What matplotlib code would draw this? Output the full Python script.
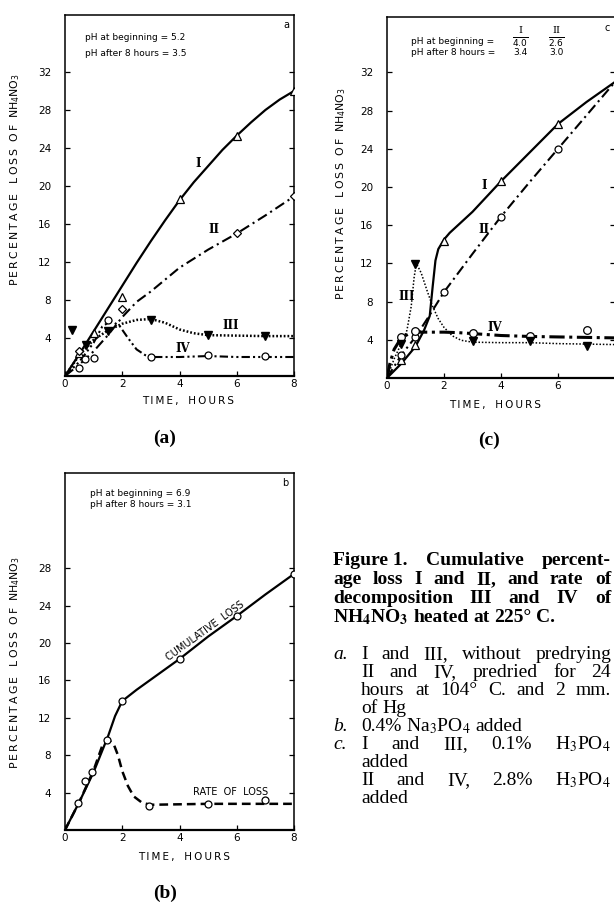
import matplotlib
matplotlib.use("Agg")
import matplotlib.pyplot as plt

W, H = 614, 905

# ---------------- tick values / labels ----------------
x_ticks = [0, 2, 4, 6, 8]
x_ticklabels_ab = ["0", "2", "4", "6", "8"]
x_ticklabels_c = ["0", "2", "4", "6", ""]          # 8 is cut off in the scan
y_ticks_ac = [4, 8, 12, 16, 20, 24, 28, 32]
y_ticks_b = [4, 8, 12, 16, 20, 24, 28]

# ---------------- panel (a) ----------------
a_I_x = [0.5, 1.0, 2.0, 4.0, 6.0, 8.0]
a_I_y = [2.4, 4.5, 8.3, 18.6, 25.3, 30.0]
a_I_cx = [0, 0.5, 1, 1.5, 2, 2.5, 3, 3.5, 4, 4.5, 5, 5.5, 6, 6.5, 7, 7.5, 8]
a_I_cy = [0, 2.3, 4.7, 7.1, 9.5, 11.9, 14.2, 16.4, 18.5, 20.4, 22.1, 23.8, 25.3, 26.7, 28.0, 29.1, 30.0]

a_II_x = [0.5, 2.0, 6.0, 8.0]
a_II_y = [2.6, 7.0, 15.0, 18.9]
a_II_cx = [0, 0.5, 1, 1.5, 2, 2.5, 3, 4, 5, 6, 7, 8]
a_II_cy = [0, 1.2, 2.6, 4.3, 6.2, 7.8, 8.9, 11.4, 13.3, 15.0, 16.9, 18.9]

a_III_x = [0.25, 0.75, 1.5, 3.0, 5.0, 7.0]
a_III_y = [4.8, 3.3, 4.7, 5.9, 4.3, 4.2]
a_III_cx = [0, 0.5, 1, 1.5, 2, 2.5, 3, 3.5, 4, 4.5, 5, 6, 7, 8]
a_III_cy = [0, 2.2, 3.8, 4.8, 5.5, 5.9, 6.0, 5.6, 4.9, 4.5, 4.3, 4.25, 4.2, 4.2]

a_IV_x = [0.5, 0.7, 1.0, 1.5, 3.0, 5.0, 7.0]
a_IV_y = [0.8, 1.8, 1.9, 5.9, 2.0, 2.2, 2.1]
a_IV_cx = [0, 0.5, 1, 1.3, 1.6, 1.9, 2.2, 2.5, 2.8, 3, 4, 5, 6, 7, 8]
a_IV_cy = [0, 1.5, 3.5, 5.2, 5.8, 5.3, 4.0, 2.8, 2.2, 2.0, 2.0, 2.1, 2.0, 2.0, 2.0]

# ---------------- panel (c) ----------------
c_I_x = [0.5, 1.0, 2.0, 4.0, 6.0]
c_I_y = [1.9, 3.45, 14.3, 20.6, 26.6]
c_I_cx = [0, 0.5, 1, 1.3, 1.5, 1.6, 1.7, 1.8, 2.0, 2.2, 3, 4, 5, 6, 7, 8]
c_I_cy = [0, 1.5, 3.3, 5.0, 6.5, 9.5, 12.3, 13.5, 14.5, 15.2, 17.4, 20.6, 23.6, 26.6, 28.9, 31.0]

c_II_x = [0.5, 1.0, 2.0, 4.0, 6.0]
c_II_y = [2.4, 4.25, 9.0, 16.9, 24.0]
c_II_cx = [0, 0.5, 1, 1.5, 2, 3, 4, 5, 6, 7, 8]
c_II_cy = [0, 2.4, 4.3, 6.6, 9.0, 13.0, 16.9, 20.5, 24.0, 27.5, 31.0]

c_III_x = [0.5, 1.0, 3.0, 5.0, 7.0]
c_III_y = [3.6, 11.9, 3.9, 3.9, 3.3]
c_III_cx = [0, 0.25, 0.5, 0.7, 0.85, 0.95, 1.03, 1.2, 1.4, 1.6, 1.8, 2.0, 2.3, 2.6, 3, 4, 5, 6, 7, 8]
c_III_cy = [0, 2.0, 3.6, 5.0, 7.5, 10.5, 12.0, 11.0, 9.2, 7.5, 6.2, 5.3, 4.4, 3.95, 3.75, 3.7, 3.7, 3.6, 3.55, 3.5]

c_IV_x = [0.5, 1.0, 3.0, 5.0, 7.0]
c_IV_y = [4.25, 4.9, 4.75, 4.4, 5.0]
c_IV_cx = [0, 0.1, 0.25, 0.5, 0.75, 1, 1.5, 2, 2.5, 3, 4, 5, 6, 7, 8]
c_IV_cy = [0, 1.5, 3.0, 4.2, 4.6, 4.8, 4.8, 4.8, 4.75, 4.65, 4.45, 4.35, 4.3, 4.25, 4.2]

# ---------------- panel (b) ----------------
b_cum_x = [0.45, 0.7, 0.95, 1.45, 2.0, 4.0, 6.0, 8.0]
b_cum_y = [2.9, 5.2, 6.2, 9.6, 13.8, 18.3, 22.9, 27.4]
b_cum_cx = [0, 0.5, 1, 1.5, 1.75, 2, 2.5, 3, 4, 5, 6, 7, 8]
b_cum_cy = [0, 3.0, 6.2, 10.0, 12.2, 13.8, 15.0, 16.1, 18.3, 20.7, 22.9, 25.2, 27.4]

b_rate_x = [2.95, 5.0, 6.97]
b_rate_y = [2.6, 2.8, 3.2]
b_rate_cx = [0, 0.5, 1, 1.3, 1.5, 1.7, 1.85, 2, 2.2, 2.4, 2.7, 3, 4, 5, 6, 7, 8]
b_rate_cy = [0, 3.0, 6.4, 9.0, 9.7, 9.2, 8.0, 6.3, 4.7, 3.6, 2.9, 2.7, 2.75, 2.8, 2.8, 2.8, 2.8]

# ---------------------------------------------------------------
fig = plt.figure(figsize=(W / 100, H / 100), dpi=100)
plt.rcParams["font.family"] = ["DejaVu Sans"]

TS = "\u2009"
YLABEL = TS.join("PERCENTAGE") + "   " + TS.join("LOSS") + "  " + TS.join("OF") + "  NH$_4$NO$_3$"
XLABEL = TS.join("TIME,") + "   " + TS.join("HOURS")


def rect(l, t, r, b):
    return [l / W, 1 - b / H, (r - l) / W, (b - t) / H]


def make_axes(r, ytop, yticks, xtl):
    ax = fig.add_axes(r)
    ax.set_xlim(0, 8)
    ax.set_ylim(0, ytop)
    ax.set_xticks(x_ticks)
    ax.set_xticklabels(xtl)
    ax.set_yticks(yticks)
    ax.set_yticklabels([str(v) for v in yticks])
    ax.tick_params(axis="both", direction="in", length=3.5, width=0.9,
                   labelsize=7.5)
    ax.tick_params(axis="y", right=True, pad=10)
    ax.tick_params(axis="x", pad=2.5)
    for s in ax.spines.values():
        s.set_linewidth(1.1)
    ax.spines["bottom"].set_linewidth(1.6)
    ax.set_ylabel(YLABEL, fontsize=7.8)
    ax.set_xlabel(XLABEL, fontsize=7.5, va="center")
    return ax


open_kw = dict(markerfacecolor="white", markeredgecolor="black",
               markeredgewidth=0.9, linestyle="none", zorder=5)
fill_kw = dict(markerfacecolor="black", markeredgecolor="black",
               linestyle="none", zorder=5)
roman_kw = dict(family="DejaVu Serif", weight="bold", fontsize=8.5,
                ha="center", va="center")
note_kw = dict(fontsize=6.5, ha="left", va="center")

# ---------------- (a) ----------------
ax = make_axes(rect(65, 15, 294, 376), 38.0, y_ticks_ac, x_ticklabels_ab)
ax.yaxis.set_label_coords(-0.188, 0.543)
ax.xaxis.set_label_coords(0.537, -0.069)
ax.plot(a_I_cx, a_I_cy, color="black", lw=1.6)
ax.plot(a_II_cx, a_II_cy, color="black", lw=1.5, dashes=(5, 2, 1, 2))
ax.plot(a_III_cx, a_III_cy, color="black", lw=1.8, dashes=(0.7, 0.8))
ax.plot(a_IV_cx, a_IV_cy, color="black", lw=1.5, dashes=(4, 1.5, 1, 1.5, 1, 1.5))
ax.plot(a_I_x, a_I_y, marker="^", markersize=6, **open_kw)
ax.plot(a_II_x, a_II_y, marker="D", markersize=4.5, **open_kw)
ax.plot(a_IV_x, a_IV_y, marker="o", markersize=5, **open_kw)
ax.plot(a_III_x, a_III_y, marker="v", markersize=6, **fill_kw)
ax.text(4.65, 22.4, "I", **roman_kw)
ax.text(5.2, 15.4, "II", **roman_kw)
ax.text(5.8, 5.3, "III", **roman_kw)
ax.text(4.1, 2.9, "IV", **roman_kw)
ax.text(0.7, 35.65, "pH at beginning = 5.2", **note_kw)
ax.text(0.7, 33.95, "pH after 8 hours = 3.5", **note_kw)
ax.text(7.75, 36.9, "a", fontsize=7, ha="center", va="center")

# ---------------- (c) ----------------
ax = make_axes(rect(387, 17, 615, 378), 37.8, y_ticks_ac, x_ticklabels_c)
ax.yaxis.set_label_coords(-0.171, 0.512)
ax.xaxis.set_label_coords(0.474, -0.075)
ax.plot(c_I_cx, c_I_cy, color="black", lw=1.6)
ax.plot(c_II_cx, c_II_cy, color="black", lw=1.5, dashes=(5, 2, 1, 2))
ax.plot(c_III_cx, c_III_cy, color="black", lw=1.1, dashes=(1, 1.2))
ax.plot(c_IV_cx, c_IV_cy, color="black", lw=2.2, dashes=(5, 1.5, 1, 1.5))
ax.plot(c_I_x, c_I_y, marker="^", markersize=6, **open_kw)
ax.plot(c_II_x, c_II_y, marker="o", markersize=5, **open_kw)
ax.plot(c_IV_x, c_IV_y, marker="o", markersize=5.5, **open_kw)
ax.plot(c_III_x, c_III_y, marker="v", markersize=6, **fill_kw)
ax.text(3.4, 20.2, "I", **roman_kw)
ax.text(3.4, 15.5, "II", **roman_kw)
ax.text(0.7, 8.5, "III", **roman_kw)
ax.text(3.78, 5.3, "IV", **roman_kw)
ax.text(0.83, 35.2, "pH at beginning =", **note_kw)
ax.text(0.83, 34.05, "pH after 8 hours =", **note_kw)
ax.text(4.67, 36.4, "I", family="DejaVu Serif", fontsize=7, ha="center", va="center")
ax.text(5.95, 36.4, "II", family="DejaVu Serif", fontsize=7, ha="center", va="center")
ax.text(4.67, 35.2, r"$\overline{4.0}$", fontsize=6.5, ha="center", va="center")
ax.text(5.95, 35.2, r"$\overline{2.6}$", fontsize=6.5, ha="center", va="center")
ax.text(4.67, 34.05, "3.4", fontsize=6.5, ha="center", va="center")
ax.text(5.95, 34.05, "3.0", fontsize=6.5, ha="center", va="center")
ax.text(7.72, 36.6, "c", fontsize=7, ha="center", va="center")

# ---------------- (b) ----------------
ax = make_axes(rect(65, 473, 294, 830), 38.2, y_ticks_b, x_ticklabels_ab)
ax.yaxis.set_label_coords(-0.188, 0.47)
ax.xaxis.set_label_coords(0.52, -0.075)
ax.plot(b_cum_cx, b_cum_cy, color="black", lw=1.6)
ax.plot(b_rate_cx, b_rate_cy, color="black", lw=1.8, dashes=(3.5, 2))
ax.plot(b_cum_x, b_cum_y, marker="o", markersize=5, **open_kw)
ax.plot(b_rate_x, b_rate_y, marker="o", markersize=5, **open_kw)
ax.text(4.9, 21.3, "CUMULATIVE  LOSS", fontsize=7, rotation=36,
        rotation_mode="anchor", ha="center", va="center")
ax.text(5.77, 4.1, "RATE  OF  LOSS", fontsize=7, ha="center", va="center")
ax.text(0.87, 36.0, "pH at beginning = 6.9", **note_kw)
ax.text(0.87, 34.85, "pH after 8 hours = 3.1", **note_kw)
ax.text(7.7, 37.1, "b", fontsize=7, ha="center", va="center")

# ---------------- panel letters ----------------
for txt, x, y in [("(a)", 165, 438), ("(c)", 489, 440), ("(b)", 165, 893)]:
    fig.text(x / W, 1 - y / H, txt, family="Liberation Serif", weight="bold",
             fontsize=14, ha="center", va="center")

# ---------------- caption ----------------
renderer = fig.canvas.get_renderer()
CAP_FAMILY = "Liberation Serif"
CAP_SIZE = 14


def cap_line(words, x0, yb, x1=None, weight="normal", style="normal"):
    size = CAP_SIZE
    ts = [fig.text(0, 0, w, family=CAP_FAMILY, fontsize=size, weight=weight,
                   style=style, math_fontfamily="stix", ha="left", va="baseline")
          for w in words]
    ws = [t.get_window_extent(renderer).width for t in ts]
    sp0 = size * 0.25 * 100 / 72
    if x1 is not None and len(ts) > 1:
        natural = sum(ws) + sp0 * (len(ts) - 1)
        if natural > x1 - x0:
            scale = (x1 - x0) / natural
            size = size * scale
            for t in ts:
                t.set_fontsize(size)
            ws = [w * scale for w in ws]
            sp = sp0 * scale
        else:
            sp = (x1 - x0 - sum(ws)) / (len(ts) - 1)
    else:
        sp = sp0
    x = x0
    for t, w in zip(ts, ws):
        t.set_position((x / W, 1 - yb / H))
        x += w + sp


XL, XT, XR = 333, 361, 611
cap_line(["Figure 1.", "Cumulative", "percent-"], XL, 565, XR, weight="bold")
cap_line(["age", "loss", "I", "and", "II,", "and", "rate", "of"], XL, 584, XR, weight="bold")
cap_line(["decomposition", "III", "and", "IV", "of"], XL, 603, XR, weight="bold")
cap_line([r"NH$_\mathbf{4}$NO$_\mathbf{3}$", "heated", "at", "225°", "C."], XL, 622, None, weight="bold")

item_y = [659, 677, 695, 713, 731, 749, 767, 785, 803]
cap_line(["a."], XL, item_y[0], None, style="italic")
cap_line(["I", "and", "III,", "without", "predrying"], XT, item_y[0], XR)
cap_line(["II", "and", "IV,", "predried", "for", "24"], XT, item_y[1], XR)
cap_line(["hours", "at", "104°", "C.", "and", "2", "mm."], XT, item_y[2], XR)
cap_line(["of", "Hg"], XT, item_y[3])
cap_line(["b."], XL, item_y[4], None, style="italic")
cap_line(["0.4%", r"Na$_3$PO$_4$", "added"], XT, item_y[4])
cap_line(["c."], XL, item_y[5], None, style="italic")
cap_line(["I", "and", "III,", "0.1%", r"H$_3$PO$_4$"], XT, item_y[5], XR)
cap_line(["added"], XT, item_y[6])
cap_line(["II", "and", "IV,", "2.8%", r"H$_3$PO$_4$"], XT, item_y[7], XR)
cap_line(["added"], XT, item_y[8])

fig.savefig("out.png", dpi=100)
